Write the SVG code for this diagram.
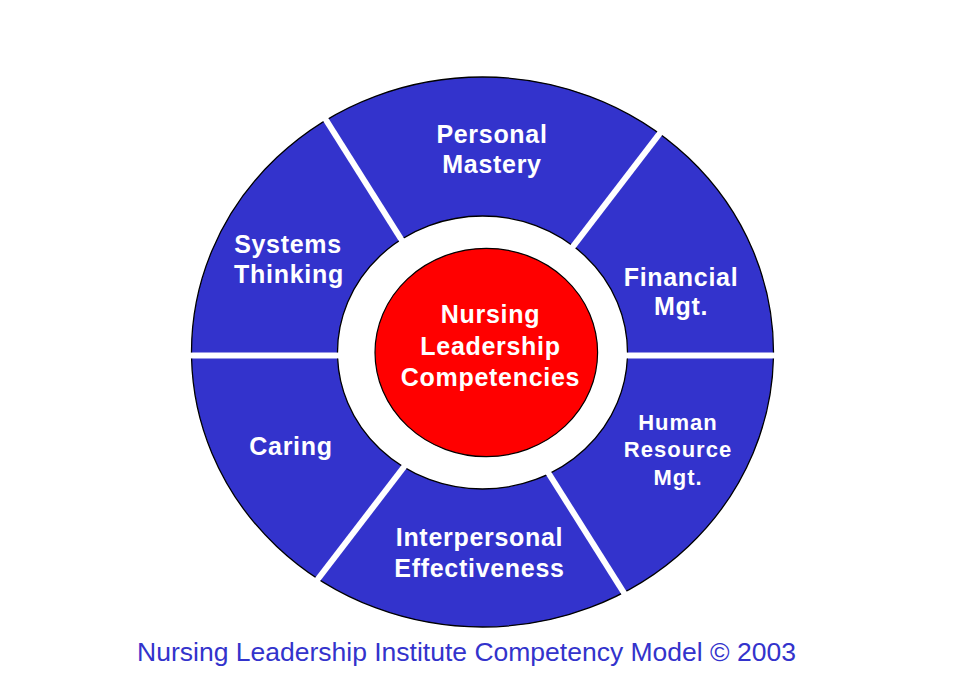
<svg xmlns="http://www.w3.org/2000/svg" xmlns:xlink="http://www.w3.org/1999/xlink" width="956" height="697" viewBox="0 0 956 697">
  <style>
    .ring { fill: #3333CC; stroke: #000000; stroke-width: 1.3; fill-rule: evenodd; }
    .lbl { font-family: "Liberation Sans", Arial, sans-serif; font-weight: bold; font-size: 25px; letter-spacing: 0.7px; fill: #FFFFFF; text-anchor: middle; }
    .lbl-s { font-family: "Liberation Sans", Arial, sans-serif; font-weight: bold; font-size: 22px; letter-spacing: 1px; fill: #FFFFFF; text-anchor: middle; }
    .core { fill: #FF0000; stroke: #000000; stroke-width: 1.2; }
    .caption { font-family: "Liberation Sans", Arial, sans-serif; font-size: 26.5px; fill: #3333CC; text-anchor: middle; }
  </style>
  <defs>
    <path id="ring" class="ring" d="M191.5,352 A291,275 0 1 0 773.5,352 A291,275 0 1 0 191.5,352 Z M337.5,352.5 A145,136.5 0 1 0 627.5,352.5 A145,136.5 0 1 0 337.5,352.5 Z"/>
    <clipPath id="c-pm"><polygon points="481.4,361.0 263.7,15.5 730.6,36.1"/></clipPath>
    <clipPath id="c-fm"><polygon points="495.5,352.5 735.4,39.7 900,39.7 900,352.5"/></clipPath>
    <clipPath id="c-hr"><polygon points="479.8,358.5 900,358.5 900,692.3 690.1,692.3"/></clipPath>
    <clipPath id="c-ie"><polygon points="480.9,371.5 685.1,695.5 248.2,674.9"/></clipPath>
    <clipPath id="c-ca"><polygon points="483.3,358.5 243.4,671.3 50,671.3 50,358.5"/></clipPath>
    <clipPath id="c-st"><polygon points="469.0,352.5 50,352.5 50,18.7 258.7,18.7"/></clipPath>
  </defs>
  <rect x="0" y="0" width="956" height="697" fill="#FFFFFF"/>

  <g id="personal-mastery">
    <use xlink:href="#ring" href="#ring" clip-path="url(#c-pm)"/>
    <text class="lbl" x="492" y="142.7">Personal</text>
    <text class="lbl" x="492" y="173.3">Mastery</text>
  </g>
  <g id="financial-mgt">
    <use xlink:href="#ring" href="#ring" clip-path="url(#c-fm)"/>
    <text class="lbl" x="681" y="285.7">Financial</text>
    <text class="lbl" x="681" y="315">Mgt.</text>
  </g>
  <g id="human-resource-mgt">
    <use xlink:href="#ring" href="#ring" clip-path="url(#c-hr)"/>
    <text class="lbl-s" x="678" y="430">Human</text>
    <text class="lbl-s" x="678" y="457.3">Resource</text>
    <text class="lbl-s" x="678" y="485">Mgt.</text>
  </g>
  <g id="interpersonal-effectiveness">
    <use xlink:href="#ring" href="#ring" clip-path="url(#c-ie)"/>
    <text class="lbl" x="479.5" y="545.7">Interpersonal</text>
    <text class="lbl" x="479.5" y="576.7">Effectiveness</text>
  </g>
  <g id="caring">
    <use xlink:href="#ring" href="#ring" clip-path="url(#c-ca)"/>
    <text class="lbl" x="291" y="455">Caring</text>
  </g>
  <g id="systems-thinking">
    <use xlink:href="#ring" href="#ring" clip-path="url(#c-st)"/>
    <text class="lbl" x="288" y="253.3">Systems</text>
    <text class="lbl" x="289" y="283.3">Thinking</text>
  </g>

  <g id="nursing-leadership-competencies">
    <ellipse class="core" cx="486.3" cy="352.5" rx="111.3" ry="104.2"/>
    <text class="lbl" x="490.5" y="323.3">Nursing</text>
    <text class="lbl" x="490.5" y="354.5">Leadership</text>
    <text class="lbl" x="490.5" y="385.5">Competencies</text>
  </g>

  <g id="connectors"/>

  <text class="caption" x="466.5" y="661">Nursing Leadership Institute Competency Model © 2003</text>
</svg>
